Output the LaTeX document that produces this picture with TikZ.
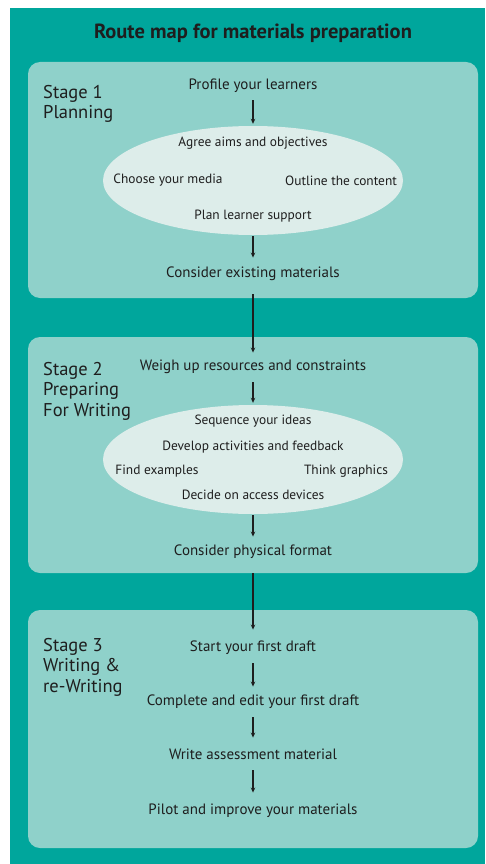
\documentclass[tikz,border=0pt]{standalone}
\usepackage{fontspec}
\setmainfont{PT Sans}
\usetikzlibrary{shapes.geometric,arrows.meta}
\definecolor{teal0}{HTML}{00A69C}
\definecolor{panel}{HTML}{8FD1CA}
\definecolor{ell}{HTML}{DDEDEA}
\definecolor{ink}{HTML}{1E1E1E}
\begin{document}
\begin{tikzpicture}[x=1pt,y=-1pt,
  panelbox/.style={fill=panel, rounded corners=12pt, minimum width=450pt, inner sep=0pt},
  ellbox/.style={ellipse, fill=ell, minimum width=300pt, minimum height=109pt, inner sep=0pt},
  stepnode/.style={font=\fontsize{15}{17}\selectfont, text=ink, inner sep=0pt, text height=10.5pt, text depth=3pt},
  innernode/.style={font=\fontsize{13.4}{15}\selectfont, text=ink, inner sep=0pt},
  stagelbl/.style={font=\fontsize{18.5}{20.5}\selectfont, text=ink, align=left, anchor=north west, inner sep=0pt},
  titlenode/.style={font=\fontsize{20.5}{23}\selectfont\bfseries, text=ink},
  arr/.style={draw=ink, line width=1.1pt, -{Stealth[length=5pt,width=4.5pt]}}
]
\useasboundingbox (0,0) rectangle (485,864);
\fill[white] (0,0) rectangle (485,864);
\fill[teal0] (10,8) rectangle (485,864);

\node[titlenode] (title) at (253,33) {Route map for materials preparation};

% panels
\node[panelbox, minimum height=236pt] (p1) at (253,180) {};
\node[panelbox, minimum height=236pt] (p2) at (253,455) {};
\node[panelbox, minimum height=238pt] (p3) at (253,729) {};

% stage labels
\node[stagelbl] (s1) at (43,85) {Stage 1\\Planning};
\node[stagelbl] (s2) at (43,362) {Stage 2\\Preparing\\For Writing};
\node[stagelbl] (s3) at (43,638) {Stage 3\\Writing \&\\re-Writing};

% stage 1
\node[stepnode] (profile) at (253,86) {Profile your learners};
\node[ellbox] (e1) at (253,180.5) {};
\node[innernode] (agree) at (253,143) {Agree aims and objectives};
\node[innernode] (choose) at (168,180) {Choose your media};
\node[innernode] (outline) at (341,181) {Outline the content};
\node[innernode] (plan) at (253,216) {Plan learner support};
\node[stepnode] (consider) at (253,274) {Consider existing materials};

% stage 2
\node[stepnode] (weigh) at (253,367) {Weigh up resources and constraints};
\node[ellbox] (e2) at (253,459.5) {};
\node[innernode] (seq) at (253,421) {Sequence your ideas};
\node[innernode] (dev) at (253,447) {Develop activities and feedback};
\node[innernode] (find) at (157,471) {Find examples};
\node[innernode] (think) at (346,471) {Think graphics};
\node[innernode] (decide) at (253,495) {Decide on access devices};
\node[stepnode] (phys) at (253,552) {Consider physical format};

% stage 3
\node[stepnode] (start) at (253,648) {Start your first draft};
\node[stepnode] (complete) at (253,702) {Complete and edit your first draft};
\node[stepnode] (write) at (253,756) {Write assessment material};
\node[stepnode] (pilot) at (253,811) {Pilot and improve your materials};

% connectors
\draw[arr, shorten <=7.5pt, shorten >=2pt] (profile) -- (e1);
\draw[arr, shorten <=1pt, shorten >=9.5pt] (e1) -- (consider);
\draw[arr, shorten <=13.5pt, shorten >=7.5pt] (consider) -- (weigh);
\draw[arr, shorten <=8.5pt, shorten >=2pt] (weigh) -- (e2);
\draw[arr, shorten <=1pt, shorten >=8.5pt] (e2) -- (phys);
\draw[arr, shorten <=14.5pt, shorten >=11.5pt] (phys) -- (start);
\draw[arr, shorten <=8.5pt, shorten >=8.5pt] (start) -- (complete);
\draw[arr, shorten <=8.5pt, shorten >=11.5pt] (complete) -- (write);
\draw[arr, shorten <=7.5pt, shorten >=11.5pt] (write) -- (pilot);
\end{tikzpicture}
\end{document}
